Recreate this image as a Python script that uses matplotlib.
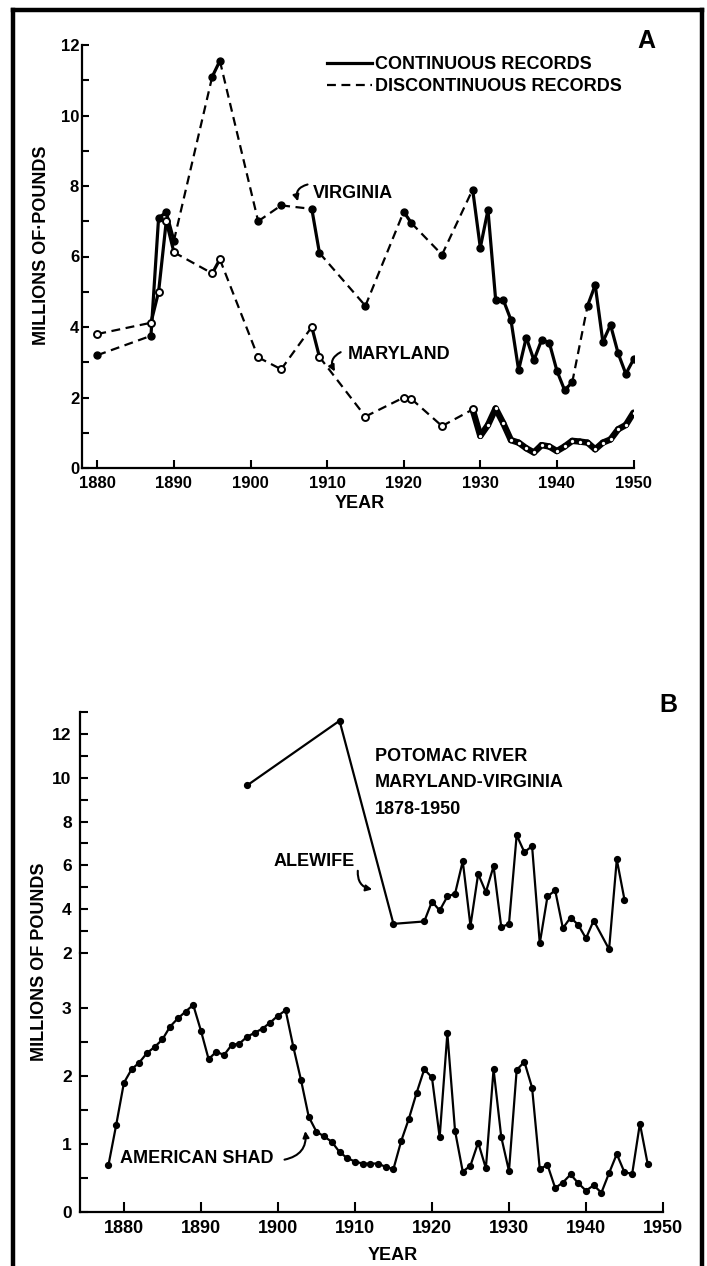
import matplotlib
matplotlib.use('Agg')
import matplotlib.pyplot as plt
from matplotlib.lines import Line2D

W, H = 707, 1266
plt.rcParams['font.family'] = ['Liberation Sans', 'DejaVu Sans']
plt.rcParams['font.weight'] = 'bold'

# ---------------- data (millions of pounds) ----------------
va_years = [1880, 1887, 1888, 1889, 1890, 1895, 1896, 1901, 1904, 1908, 1909,
            1915, 1920, 1921, 1925, 1929, 1930, 1931, 1932, 1933, 1934, 1935,
            1936, 1937, 1938, 1939, 1940, 1941, 1942, 1944, 1945, 1946, 1947,
            1948, 1949, 1950]
va_vals = [3.2, 3.75, 7.1, 7.25, 6.45, 11.1, 11.55, 7.0, 7.45, 7.35, 6.1,
           4.6, 7.27, 6.95, 6.05, 7.9, 6.25, 7.32, 4.78, 4.77, 4.2, 2.78,
           3.7, 3.06, 3.63, 3.56, 2.76, 2.21, 2.43, 4.6, 5.19, 3.58, 4.06,
           3.25, 2.67, 3.08]

md_years = [1880, 1887, 1888, 1889, 1890, 1895, 1896, 1901, 1904, 1908, 1909,
            1915, 1920, 1921, 1925, 1929, 1930, 1931, 1932, 1933, 1934, 1935,
            1936, 1937, 1938, 1939, 1940, 1941, 1942, 1943, 1944, 1945, 1946,
            1947, 1948, 1949, 1950]
md_vals = [3.8, 4.12, 5.0, 7.0, 6.12, 5.52, 5.92, 3.14, 2.8, 4.0, 3.15,
           1.46, 2.0, 1.96, 1.19, 1.66, 0.91, 1.22, 1.69, 1.27, 0.79, 0.72,
           0.56, 0.44, 0.65, 0.61, 0.48, 0.61, 0.77, 0.75, 0.72, 0.53, 0.72,
           0.81, 1.10, 1.22, 1.57]

ale_years = [1896, 1908, 1915, 1919, 1920, 1921, 1922, 1923, 1924, 1925, 1926,
             1927, 1928, 1929, 1930, 1931, 1932, 1933, 1934, 1935, 1936, 1937,
             1938, 1939, 1940, 1941, 1943, 1944, 1945]
ale_vals = [9.65, 12.6, 3.33, 3.44, 4.35, 3.94, 4.58, 4.71, 6.19, 3.24, 5.61,
            4.78, 5.96, 3.18, 3.33, 7.38, 6.6, 6.88, 2.44, 4.58, 4.86, 3.13,
            3.62, 3.28, 2.67, 3.48, 2.17, 6.27, 4.43]

shad_years = list(range(1878, 1949))
shad_vals = [0.69, 1.28, 1.90, 2.10, 2.20, 2.34, 2.43, 2.54, 2.73, 2.85,
             2.95, 3.05, 2.67, 2.25, 2.36, 2.31, 2.46, 2.48, 2.58, 2.64,
             2.70, 2.79, 2.89, 2.97, 2.43, 1.94, 1.40, 1.18, 1.11, 1.03,
             0.88, 0.79, 0.74, 0.71, 0.71, 0.71, 0.66, 0.63, 1.04, 1.37,
             1.75, 2.10, 1.98, 1.10, 2.63, 1.19, 0.59, 0.68, 1.02, 0.64,
             2.10, 1.10, 0.60, 2.09, 2.21, 1.83, 0.63, 0.69, 0.35, 0.43,
             0.55, 0.42, 0.31, 0.39, 0.28, 0.57, 0.85, 0.58, 0.56, 1.30,
             0.71]

yearticks = list(range(1880, 1951, 10))

# ---------------- figure ----------------
fig = plt.figure(figsize=(W / 100, H / 100), dpi=100)


def rect(x0, y0, x1, y1):
    return [x0 / W, 1 - y1 / H, (x1 - x0) / W, (y1 - y0) / H]


def fx(x):
    return x / W


def fy(y):
    return 1 - y / H


def style(ax, left=True, bottom=True):
    for s in ['top', 'right']:
        ax.spines[s].set_visible(False)
    ax.spines['left'].set_visible(left)
    ax.spines['bottom'].set_visible(bottom)
    for s in ['left', 'bottom']:
        ax.spines[s].set_linewidth(1.6)
    ax.patch.set_alpha(0)


# ---------------- Panel A ----------------
axA = fig.add_axes(rect(82, 45, 633.5, 468))
style(axA)
axA.set_xlim(1878, 1950)
axA.set_ylim(0, 12)
axA.set_xticks(yearticks)
axA.set_yticks(range(0, 13, 2))
axA.set_yticks(range(0, 13), minor=True)
axA.tick_params(axis='both', which='both', direction='in', width=1.5)
axA.tick_params(axis='y', which='both', length=5, pad=2, labelsize=12)
axA.tick_params(axis='x', which='both', length=6, pad=6, labelsize=12)

DASH = (4, 2.5)


def draw_records(ax, years, vals, thick_from=None):
    for i in range(len(years) - 1):
        xs, ys = years[i:i + 2], vals[i:i + 2]
        if years[i + 1] - years[i] == 1:
            lw = 2.3
            if thick_from is not None and years[i] >= thick_from:
                lw = 4.6
            ax.plot(xs, ys, color='k', lw=lw, solid_capstyle='round',
                    solid_joinstyle='round', zorder=3)
        else:
            ax.plot(xs, ys, color='k', lw=1.6, dashes=DASH, zorder=2)


draw_records(axA, va_years, va_vals)
draw_records(axA, md_years, md_vals, thick_from=1929)
axA.plot(va_years, va_vals, 'o', ms=5, mfc='k', mec='k', zorder=5)
md_open_x = [y for y in md_years if y < 1930]
md_open_y = [v for y, v in zip(md_years, md_vals) if y < 1930]
md_dot_x = [y for y in md_years if y >= 1930]
md_dot_y = [v for y, v in zip(md_years, md_vals) if y >= 1930]
axA.plot(md_open_x, md_open_y, 'o', ms=5, mfc='white', mec='k', mew=1.4, zorder=5)
axA.plot(md_dot_x, md_dot_y, 'o', ms=2.4, mfc='white', mec='white', mew=0, zorder=6)

handles = [Line2D([], [], color='k', lw=2.3),
           Line2D([], [], color='k', lw=1.6, dashes=DASH)]
axA.legend(handles, ['CONTINUOUS RECORDS', 'DISCONTINUOUS RECORDS'],
           loc='upper left', bbox_to_anchor=(0.444, 0.973), frameon=False,
           prop={'size': 13, 'weight': 'bold'}, handlelength=2.5,
           handletextpad=0.15, labelspacing=0.27, borderpad=0, borderaxespad=0)

axA.text(1908.2, 7.8, 'VIRGINIA', fontsize=13, ha='left', va='center')
axA.annotate('', xy=(1906.3, 7.49), xytext=(1907.8, 8.06),
             arrowprops=dict(arrowstyle='-|>', color='k', lw=1.5,
                             mutation_scale=9,
                             connectionstyle='arc3,rad=0.6'))
axA.text(1912.7, 3.21, 'MARYLAND', fontsize=13, ha='left', va='center')
axA.annotate('', xy=(1911.2, 2.67), xytext=(1912.1, 3.32),
             arrowprops=dict(arrowstyle='-|>', color='k', lw=1.5,
                             mutation_scale=9,
                             connectionstyle='arc3,rad=0.6'))

fig.text(fx(646), fy(41), 'A', fontsize=18, ha='center', va='center')
fig.text(fx(360), fy(504), 'YEAR', fontsize=13, ha='center', va='center')
fig.text(fx(42), fy(245), 'MILLIONS OF·POUNDS', fontsize=13, rotation=90,
         ha='center', va='center')

# ---------------- Panel B ----------------
axT = fig.add_axes(rect(80, 712, 663, 953))
axS = fig.add_axes(rect(80, 953, 663, 1211.7))
style(axT, left=True, bottom=False)
style(axS)
for ax in (axT, axS):
    ax.set_xlim(1874.3, 1950)
axT.set_ylim(2, 13)
axT.set_xticks([])
axT.set_yticks(range(2, 13, 2))
axT.set_yticks(range(2, 14), minor=True)
axS.set_ylim(0, 3.815)
axS.set_yticks([0, 1, 2, 3])
axS.set_yticks([0, 0.5, 1, 1.5, 2, 2.5, 3], minor=True)
axS.set_xticks(yearticks)
for ax in (axT, axS):
    ax.tick_params(axis='both', which='both', direction='in', width=1.5)
    ax.tick_params(axis='y', which='both', length=6, pad=6, labelsize=12.5)
axS.tick_params(axis='x', which='both', length=7, pad=6, labelsize=13)

axT.plot(ale_years, ale_vals, '-o', color='k', lw=1.6, ms=4.2, zorder=3)
axS.plot(shad_years, shad_vals, '-o', color='k', lw=1.6, ms=4.2, zorder=3)

axT.text(1912.6, 10.95, 'POTOMAC RIVER', fontsize=13, ha='left', va='center')
axT.text(1912.6, 9.76, 'MARYLAND-VIRGINIA', fontsize=13, ha='left', va='center')
axT.text(1912.6, 8.53, '1878-1950', fontsize=13, ha='left', va='center')
axT.text(1910.0, 6.16, 'ALEWIFE', fontsize=13, ha='right', va='center')
axT.annotate('', xy=(1912.6, 4.88), xytext=(1910.4, 5.88),
             arrowprops=dict(arrowstyle='-|>', color='k', lw=1.5,
                             mutation_scale=9,
                             connectionstyle='arc3,rad=0.5'))
axS.text(1879.5, 0.79, 'AMERICAN SHAD', fontsize=13, ha='left', va='center')
axS.annotate('', xy=(1903.5, 1.23), xytext=(1900.5, 0.76),
             arrowprops=dict(arrowstyle='-|>', color='k', lw=1.5,
                             mutation_scale=9,
                             connectionstyle='arc3,rad=0.5'))

fig.text(fx(668), fy(705), 'B', fontsize=18, ha='center', va='center')
fig.text(fx(393), fy(1255), 'YEAR', fontsize=13, ha='center', va='center')
fig.text(fx(40), fy(962), 'MILLIONS OF POUNDS', fontsize=13, rotation=90,
         ha='center', va='center')

# ---------------- outer frame ----------------
for xs, ys in [([13, 13], [10, H + 5]), ([13, 702], [10, 10]),
               ([702, 702], [10, H + 5])]:
    fig.add_artist(Line2D([fx(x) for x in xs], [fy(y) for y in ys],
                          transform=fig.transFigure, color='k', lw=3.2,
                          solid_capstyle='projecting'))

fig.savefig('out.png', dpi=100)
